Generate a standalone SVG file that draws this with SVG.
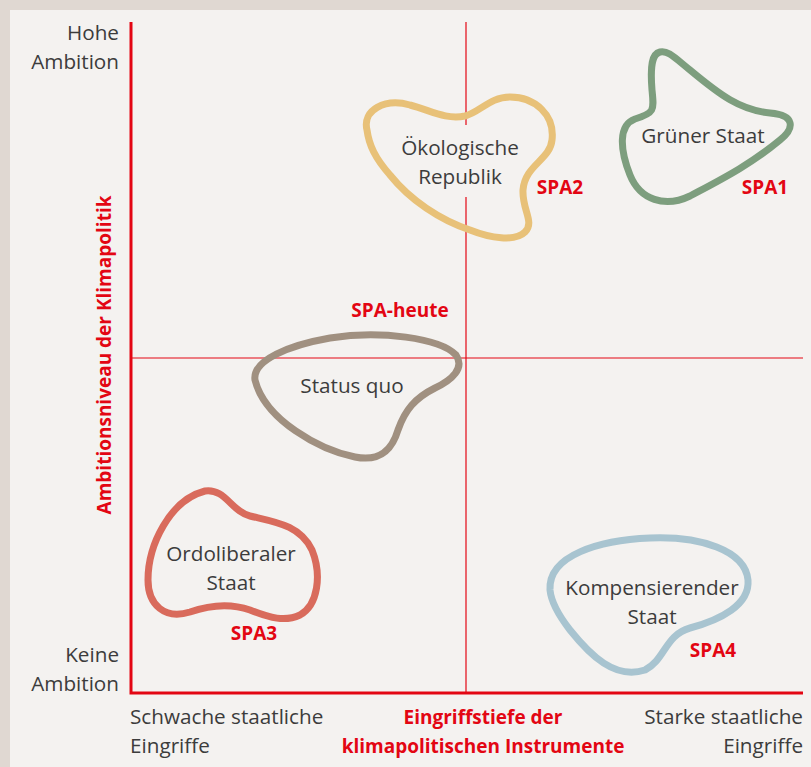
<svg xmlns="http://www.w3.org/2000/svg" width="811" height="767" viewBox="0 0 811 767">
<style>
.t{font-family:"Open Sans","Liberation Sans",sans-serif;font-size:20.7px;fill:#3c3c3c}
.r{font-family:"Open Sans","Liberation Sans",sans-serif;font-size:19px;font-weight:bold;fill:#e30613}
.e{text-anchor:end}.m{text-anchor:middle}
.blob{fill:none;stroke-width:7;stroke-linejoin:round}
.thin{stroke:#e30613;stroke-width:1.2;fill:none}
.axis{stroke:#e30613;stroke-width:3;fill:none}
</style>
<rect x="0" y="0" width="811" height="767" fill="#e0d8d2"/>
<rect x="10" y="10" width="801" height="757" fill="#f4f2f0"/>
<g id="connectors">
<line class="thin" x1="466" y1="22" x2="466" y2="125"/>
<line class="thin" x1="466" y1="197" x2="466" y2="693"/>
<line class="thin" x1="130" y1="358" x2="803" y2="358"/>
<polyline class="axis" points="131,22 131,693 803,693"/>
</g>
<g id="axis-labels">
<text class="t e" x="119" y="40">Hohe</text>
<text class="t e" x="119" y="69">Ambition</text>
<text class="t e" x="119" y="662">Keine</text>
<text class="t e" x="119" y="691">Ambition</text>
<text class="t" x="130" y="724">Schwache staatliche</text>
<text class="t" x="130" y="753">Eingriffe</text>
<text class="t e" x="803" y="724">Starke staatliche</text>
<text class="t e" x="803" y="753">Eingriffe</text>
<text class="r m" x="483" y="724">Eingriffstiefe der</text>
<text class="r m" x="483" y="753">klimapolitischen Instrumente</text>
<text class="r m" transform="translate(111,355) rotate(-90)">Ambitionsniveau der Klimapolitik</text>
<text class="r m" x="400" y="317">SPA-heute</text>
</g>
<g id="gruener-staat">
<path class="blob" stroke="#7d9e7e" d="M 660 52 C 668 50, 675 58, 690 70 C 720 95, 740 110, 770 113 C 795 115, 795 128, 780 140 C 750 165, 720 180, 690 196 C 665 208, 640 200, 630 175 C 620 150, 618 125, 635 119 C 655 113, 654 110, 652 90 C 650 65, 652 54, 660 52 Z"/>
<text class="t m" x="703" y="143">Grüner Staat</text>
<text class="r m" x="765" y="194">SPA1</text>
</g>
<g id="oekologische-republik">
<path class="blob" stroke="#e8c178" d="M 367 130 C 362 110, 385 98, 410 105 C 430 110, 445 120, 465 116 C 480 112, 490 97, 510 97 C 535 97, 555 115, 552 140 C 550 160, 525 165, 523 190 C 522 210, 535 222, 525 232 C 515 242, 490 238, 470 230 C 440 220, 410 200, 390 175 C 375 158, 369 145, 367 130 Z"/>
<text class="t m" x="460" y="155">Ökologische</text>
<text class="t m" x="460" y="184">Republik</text>
<text class="r m" x="560" y="194">SPA2</text>
</g>
<g id="status-quo">
<path class="blob" stroke="#a09080" d="M 255 380 C 252 360, 290 345, 330 338 C 380 330, 440 338, 456 355 C 465 368, 452 380, 435 388 C 415 398, 405 410, 398 430 C 392 450, 380 462, 355 457 C 320 450, 265 420, 255 380 Z"/>
<text class="t m" x="352" y="393">Status quo</text>
</g>
<g id="ordoliberaler-staat">
<path class="blob" stroke="#d96b5c" d="M 205 491 C 225 488, 232 512, 250 516 C 275 522, 300 525, 312 550 C 322 575, 318 605, 300 615 C 285 622, 270 618, 250 610 C 230 603, 210 605, 190 612 C 165 620, 148 605, 148 580 C 148 545, 170 500, 205 491 Z"/>
<text class="t m" x="231" y="561">Ordoliberaler</text>
<text class="t m" x="231" y="590">Staat</text>
<text class="r m" x="254" y="640">SPA3</text>
</g>
<g id="kompensierender-staat">
<path class="blob" stroke="#a8c4d0" d="M 550 590 C 548 555, 600 540, 650 538 C 700 536, 745 550, 748 580 C 750 605, 720 620, 690 628 C 665 635, 665 660, 645 670 C 615 680, 590 655, 570 630 C 556 612, 551 600, 550 590 Z"/>
<text class="t m" x="652" y="595">Kompensierender</text>
<text class="t m" x="652" y="624">Staat</text>
<text class="r m" x="713" y="657">SPA4</text>
</g>
</svg>
